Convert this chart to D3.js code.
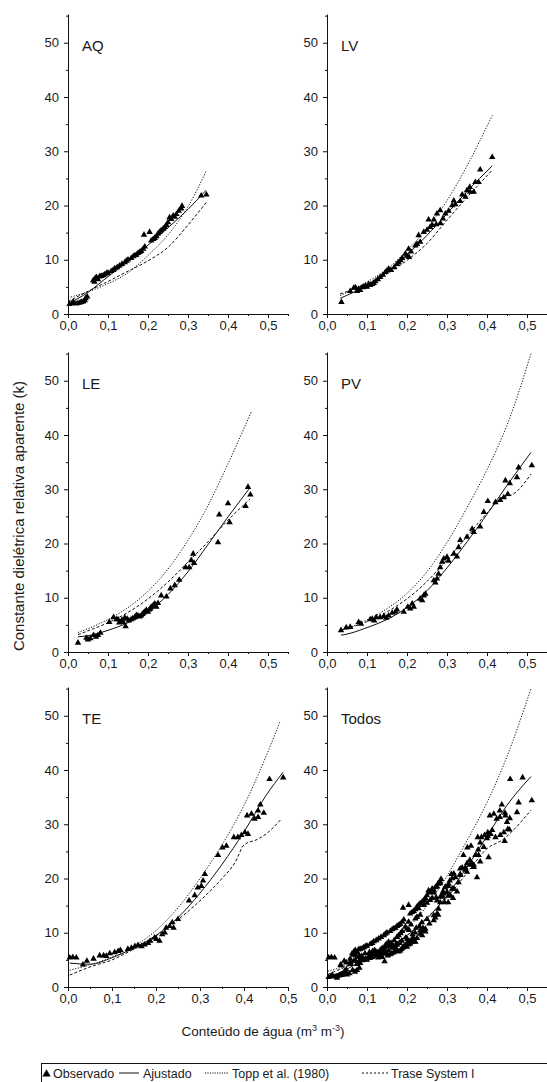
<!DOCTYPE html>
<html>
<head>
<meta charset="utf-8">
<script src="https://cdn.jsdelivr.net/npm/d3@7"></script>
<style>
  body { margin: 0; background: #fff; }
  svg text { font-family: "Liberation Sans", Arial, sans-serif; fill: #1a1a1a; }
</style>
</head>
<body>
<svg id="chart" width="547" height="1082"></svg>
<script>
// panel names and ticks
const panelNames = ['AQ', 'LV', 'LE', 'PV', 'TE', 'Todos'];
const xTicks = [0, 0.1, 0.2, 0.3, 0.4, 0.5];
const xMinor = [0.05, 0.15, 0.25, 0.35, 0.45, 0.55];
const yTicks = [0, 10, 20, 30, 40, 50];
const yMinor = [5, 15, 25, 35, 45, 55];
const xMaxes = [0.55, 0.55, 0.55, 0.55, 0.5, 0.55];

// observed (theta, k)
const aqObs = [[0.004,1.8],[0.010,2.0],[0.013,2.2],[0.020,1.9],[0.025,2.0],[0.030,2.1],[0.033,2.2],[0.038,2.3],[0.042,2.5],[0.044,2.9],[0.048,3.2],[0.063,6.2],[0.066,5.9],[0.068,6.6],[0.071,6.8],[0.075,6.4],[0.079,6.9],[0.083,7.0],[0.088,7.1],[0.092,7.3],[0.096,7.5],[0.100,7.6],[0.108,7.9],[0.113,8.1],[0.117,8.4],[0.123,8.6],[0.129,8.9],[0.135,9.2],[0.142,9.5],[0.146,9.8],[0.150,10.0],[0.158,10.3],[0.163,10.6],[0.167,10.8],[0.171,10.9],[0.175,11.2],[0.179,11.4],[0.183,11.6],[0.188,12.0],[0.192,12.4],[0.190,14.6],[0.204,15.1],[0.208,13.5],[0.213,13.8],[0.217,14.0],[0.221,14.3],[0.225,14.8],[0.229,15.1],[0.233,15.4],[0.238,15.7],[0.242,16.0],[0.246,16.4],[0.250,16.9],[0.254,17.8],[0.258,17.5],[0.263,18.1],[0.267,17.9],[0.271,18.4],[0.277,19.0],[0.283,19.4],[0.285,19.9],[0.333,21.8],[0.346,22.0]];
const lvObs = [[0.036,2.2],[0.058,4.2],[0.067,4.8],[0.071,4.9],[0.075,4.2],[0.079,4.6],[0.083,4.4],[0.088,4.9],[0.092,5.0],[0.096,5.2],[0.100,5.0],[0.104,5.5],[0.108,5.3],[0.113,5.5],[0.117,5.7],[0.121,6.0],[0.127,6.4],[0.133,6.8],[0.140,7.2],[0.146,7.7],[0.150,8.0],[0.154,8.3],[0.160,8.1],[0.168,8.6],[0.175,9.2],[0.179,9.5],[0.184,9.9],[0.188,10.3],[0.196,11.1],[0.200,10.7],[0.204,12.0],[0.205,10.5],[0.210,11.5],[0.221,12.6],[0.225,12.9],[0.229,14.5],[0.233,13.3],[0.242,15.1],[0.250,15.5],[0.254,17.4],[0.258,16.0],[0.263,16.4],[0.267,17.4],[0.273,16.5],[0.275,18.5],[0.283,19.1],[0.284,16.7],[0.290,17.6],[0.296,18.5],[0.304,19.0],[0.313,20.0],[0.317,20.9],[0.321,20.2],[0.333,20.8],[0.338,22.0],[0.346,21.6],[0.350,22.8],[0.357,23.4],[0.358,22.5],[0.367,22.5],[0.371,24.3],[0.379,24.3],[0.383,26.6],[0.413,28.9]];
const leObs = [[0.025,1.7],[0.046,2.6],[0.050,2.3],[0.056,2.5],[0.064,3.1],[0.070,2.8],[0.075,3.1],[0.081,3.5],[0.103,5.5],[0.114,6.4],[0.121,6.0],[0.125,6.0],[0.128,5.4],[0.131,5.5],[0.135,5.9],[0.138,5.5],[0.142,6.3],[0.144,4.7],[0.148,6.1],[0.152,5.8],[0.158,6.0],[0.162,6.2],[0.167,6.4],[0.171,6.8],[0.175,6.7],[0.179,6.5],[0.183,6.7],[0.186,7.0],[0.189,7.2],[0.193,7.5],[0.196,7.7],[0.200,7.4],[0.203,7.8],[0.206,8.0],[0.208,8.3],[0.213,8.6],[0.217,8.9],[0.221,8.3],[0.225,9.0],[0.233,10.4],[0.246,10.2],[0.256,11.7],[0.267,12.3],[0.278,13.3],[0.294,15.6],[0.303,15.6],[0.308,16.9],[0.313,18.1],[0.315,16.4],[0.375,20.2],[0.378,25.3],[0.400,27.4],[0.404,23.9],[0.444,26.9],[0.450,30.4],[0.456,29.0]];
const pvObs = [[0.035,4.0],[0.048,4.5],[0.058,4.6],[0.079,5.5],[0.085,5.2],[0.108,6.0],[0.113,6.1],[0.118,5.8],[0.123,6.4],[0.133,6.4],[0.142,6.6],[0.148,6.3],[0.154,6.7],[0.163,7.2],[0.171,7.4],[0.175,7.8],[0.192,7.4],[0.202,8.3],[0.208,8.0],[0.213,8.9],[0.217,8.3],[0.233,9.8],[0.238,9.5],[0.242,10.4],[0.246,10.7],[0.267,13.2],[0.271,12.8],[0.275,13.5],[0.279,14.4],[0.283,15.6],[0.288,16.6],[0.292,17.2],[0.300,17.5],[0.304,16.8],[0.317,18.1],[0.325,17.6],[0.329,19.3],[0.333,20.6],[0.350,21.2],[0.363,22.7],[0.367,22.1],[0.383,23.1],[0.392,25.8],[0.402,27.8],[0.421,27.6],[0.433,28.0],[0.442,28.5],[0.446,31.6],[0.452,29.1],[0.457,31.1],[0.475,32.2],[0.479,34.0],[0.512,34.4]];
const teObs = [[0.004,5.4],[0.011,5.5],[0.019,5.4],[0.034,4.1],[0.043,4.8],[0.058,5.2],[0.072,5.8],[0.081,5.8],[0.087,5.7],[0.095,6.2],[0.106,6.4],[0.114,6.6],[0.119,6.8],[0.136,7.0],[0.144,7.2],[0.152,7.5],[0.159,7.7],[0.167,7.5],[0.174,7.8],[0.182,8.1],[0.187,8.5],[0.197,9.1],[0.201,8.8],[0.208,8.5],[0.214,9.7],[0.220,10.0],[0.223,10.9],[0.231,11.2],[0.237,11.9],[0.240,10.9],[0.250,12.5],[0.275,15.9],[0.288,16.9],[0.295,18.3],[0.303,18.6],[0.307,19.6],[0.311,20.8],[0.341,24.3],[0.351,25.7],[0.360,26.0],[0.377,27.6],[0.386,27.6],[0.394,28.0],[0.402,28.5],[0.409,28.2],[0.407,31.6],[0.417,31.9],[0.424,31.0],[0.432,31.3],[0.432,32.5],[0.437,33.6],[0.445,32.1],[0.458,38.3],[0.489,38.6]];
const todosObs = [].concat(aqObs, lvObs, leObs, pvObs, teObs);

// ajustado (solid)
const aqFit = [[0.0,1.9],[0.05,4.0],[0.1,6.9],[0.15,9.7],[0.2,12.7],[0.25,15.9],[0.3,19.3],[0.345,22.8]];
const lvFit = [[0.033,2.9],[0.1,5.3],[0.15,7.7],[0.2,10.9],[0.25,14.5],[0.3,18.5],[0.35,22.6],[0.413,27.3]];
const leFit = [[0.025,2.8],[0.05,3.0],[0.1,4.0],[0.15,5.4],[0.2,7.4],[0.25,10.6],[0.3,14.8],[0.35,19.8],[0.4,24.9],[0.452,30.0]];
const pvFit = [[0.035,3.1],[0.05,3.3],[0.1,4.5],[0.15,6.0],[0.2,8.2],[0.25,11.3],[0.3,15.5],[0.35,20.3],[0.4,25.4],[0.45,30.7],[0.51,36.8]];
const teFit = [[0.004,4.4],[0.05,4.2],[0.1,5.4],[0.15,7.2],[0.2,9.5],[0.25,12.8],[0.3,17.3],[0.35,22.6],[0.4,28.6],[0.45,35.3],[0.489,39.6]];
const todosFit = [[0.002,1.7],[0.05,3.3],[0.1,5.4],[0.15,7.3],[0.2,9.5],[0.25,12.6],[0.3,16.9],[0.35,22.1],[0.4,27.8],[0.45,33.5],[0.51,38.8]];

// Topp et al. (1980) (dotted)
const aqTopp = [[0.0,3.0],[0.05,4.1],[0.1,5.6],[0.15,7.6],[0.2,10.8],[0.25,14.6],[0.3,19.8],[0.346,26.4]];
const lvTopp = [[0.033,3.4],[0.1,5.9],[0.15,8.3],[0.2,11.7],[0.25,15.8],[0.3,20.9],[0.35,27.3],[0.413,36.6]];
const leTopp = [[0.025,3.6],[0.05,4.3],[0.1,6.0],[0.15,8.2],[0.2,11.2],[0.25,15.3],[0.3,20.6],[0.35,27.0],[0.4,34.7],[0.458,44.2]];
const pvTopp = [[0.035,4.0],[0.1,5.9],[0.15,8.0],[0.2,10.8],[0.25,14.8],[0.3,20.2],[0.35,26.6],[0.4,33.6],[0.45,41.8],[0.51,55.0]];
const teTopp = [[0.004,3.1],[0.05,4.1],[0.1,5.5],[0.15,7.5],[0.2,10.4],[0.25,14.6],[0.3,20.0],[0.35,26.2],[0.4,33.5],[0.45,42.5],[0.482,49.0]];
const todosTopp = [[0.002,2.9],[0.05,4.0],[0.1,5.6],[0.15,7.8],[0.2,10.7],[0.25,15.0],[0.3,20.5],[0.35,27.0],[0.4,34.0],[0.45,42.5],[0.51,55.0]];

// Trase System I (dashed)
const aqTrase = [[0.0,2.3],[0.05,4.2],[0.1,6.0],[0.15,7.9],[0.2,9.8],[0.25,12.3],[0.3,16.4],[0.346,20.6]];
const lvTrase = [[0.033,3.7],[0.1,5.6],[0.15,7.4],[0.2,9.9],[0.25,13.0],[0.3,17.3],[0.35,21.5],[0.413,26.5]];
const leTrase = [[0.025,3.2],[0.05,3.9],[0.1,5.4],[0.15,7.3],[0.2,9.8],[0.25,12.9],[0.3,16.6],[0.35,20.3],[0.4,24.3],[0.455,28.2]];
const pvTrase = [[0.035,4.0],[0.1,5.6],[0.15,7.4],[0.2,9.8],[0.25,13.0],[0.3,17.0],[0.35,21.3],[0.4,25.6],[0.44,28.6],[0.46,28.9],[0.51,32.8]];
const teTrase = [[0.004,2.2],[0.05,3.7],[0.1,5.0],[0.15,7.0],[0.2,9.4],[0.25,12.4],[0.3,15.9],[0.35,20.0],[0.38,23.0],[0.4,26.2],[0.43,27.2],[0.45,28.2],[0.484,30.9]];
const todosTrase = [[0.002,2.3],[0.05,3.8],[0.1,5.2],[0.15,7.2],[0.2,9.5],[0.25,12.8],[0.3,16.5],[0.35,21.0],[0.4,25.5],[0.44,27.2],[0.46,28.5],[0.51,32.6]];

const obsList = [aqObs, lvObs, leObs, pvObs, teObs, todosObs];
const fitList = [aqFit, lvFit, leFit, pvFit, teFit, todosFit];
const toppList = [aqTopp, lvTopp, leTopp, pvTopp, teTopp, todosTopp];
const traseList = [aqTrase, lvTrase, leTrase, pvTrase, teTrase, todosTrase];

const legendLabels = ['Observado', 'Ajustado', 'Topp et al. (1980)', 'Trase System I'];

// layout
const colX = [68, 327];
const rowZero = [314, 652, 987];
const plotW = 220;
const plotH = 300;
const ink = '#111';

const svg = d3.select('#chart');
const fmt = d => d.toFixed(1).replace('.', ',');
const tri = d3.symbol(d3.symbolTriangle, 18);

panelNames.forEach((name, i) => {
  const col = i % 2;
  const row = Math.floor(i / 2);
  const g = svg.append('g')
    .attr('transform', `translate(${colX[col]},${rowZero[row] - plotH})`);

  const x = d3.scaleLinear().domain([0, xMaxes[i]]).range([0, plotW]);
  const y = d3.scaleLinear().domain([0, 55.3]).range([plotH, 0]);

  // axes
  const xa = g.append('g')
    .attr('transform', `translate(0,${plotH})`)
    .call(d3.axisBottom(x).tickValues(xTicks).tickFormat(fmt).tickSize(4).tickSizeOuter(0).tickPadding(3));
  g.append('g')
    .attr('transform', `translate(0,${plotH})`)
    .call(d3.axisBottom(x).tickValues(xMinor.filter(v => v <= xMaxes[i])).tickFormat('').tickSize(2))
    .select('.domain').remove();
  const ya = g.append('g')
    .call(d3.axisLeft(y).tickValues(yTicks).tickSize(4).tickSizeOuter(0).tickPadding(5));
  g.append('g')
    .call(d3.axisLeft(y).tickValues(yMinor).tickFormat('').tickSize(2))
    .select('.domain').remove();

  [xa, ya].forEach(a => {
    a.selectAll('text').style('font-size', '13px');
  });
  g.selectAll('.domain, .tick line').attr('stroke', ink);

  // curves
  const line = d3.line().x(d => x(d[0])).y(d => y(d[1])).curve(d3.curveMonotoneX);
  g.append('path').datum(traseList[i])
    .attr('d', line).attr('fill', 'none').attr('stroke', ink)
    .attr('stroke-width', 1).attr('stroke-dasharray', '3,2');
  g.append('path').datum(toppList[i])
    .attr('d', line).attr('fill', 'none').attr('stroke', ink)
    .attr('stroke-width', 1).attr('stroke-dasharray', '1.2,1.6');
  g.append('path').datum(fitList[i])
    .attr('d', line).attr('fill', 'none').attr('stroke', ink)
    .attr('stroke-width', 1);

  // observed points
  g.selectAll('path.obs')
    .data(obsList[i])
    .enter()
    .append('path')
      .attr('class', 'obs')
      .attr('d', tri)
      .attr('transform', d => `translate(${x(d[0])},${y(d[1])})`)
      .attr('fill', '#000');

  g.append('text')
    .attr('x', 14)
    .attr('y', y(50) + 8)
    .style('font-size', '15px')
    .text(name);
});

// axis titles
svg.append('text')
  .attr('transform', 'translate(24,516) rotate(-90)')
  .attr('text-anchor', 'middle')
  .style('font-size', '15px')
  .text('Constante dielétrica relativa aparente (k)');

const xt = svg.append('text')
  .attr('x', 263)
  .attr('y', 1036)
  .attr('text-anchor', 'middle')
  .style('font-size', '13.5px');
xt.append('tspan').text('Conteúdo de água (m');
xt.append('tspan').attr('dy', -5).style('font-size', '9px').text('3');
xt.append('tspan').attr('dy', 5).text(' m');
xt.append('tspan').attr('dy', -5).style('font-size', '9px').text('-3');
xt.append('tspan').attr('dy', 5).text(')');

// legend
const lg = svg.append('g');
lg.append('rect')
  .attr('x', 41.5).attr('y', 1063.5)
  .attr('width', 540).attr('height', 30)
  .attr('fill', 'none').attr('stroke', ink);
const ly = 1073;
lg.append('path')
  .attr('d', d3.symbol(d3.symbolTriangle, 30)())
  .attr('transform', `translate(46.5,${ly + 1})`)
  .attr('fill', '#000');
lg.append('line').attr('x1', 119).attr('x2', 139).attr('y1', ly).attr('y2', ly)
  .attr('stroke', ink);
lg.append('line').attr('x1', 205).attr('x2', 228).attr('y1', ly).attr('y2', ly)
  .attr('stroke', ink).attr('stroke-dasharray', '1.2,1.2');
lg.append('line').attr('x1', 362).attr('x2', 388).attr('y1', ly).attr('y2', ly)
  .attr('stroke', ink).attr('stroke-dasharray', '2,2');
const lx = [53, 143, 232, 391];
legendLabels.forEach((t, k) => {
  lg.append('text')
    .attr('x', lx[k])
    .attr('y', ly + 5)
    .style('font-size', '12.5px')
    .text(t);
});
</script>
</body>
</html>
